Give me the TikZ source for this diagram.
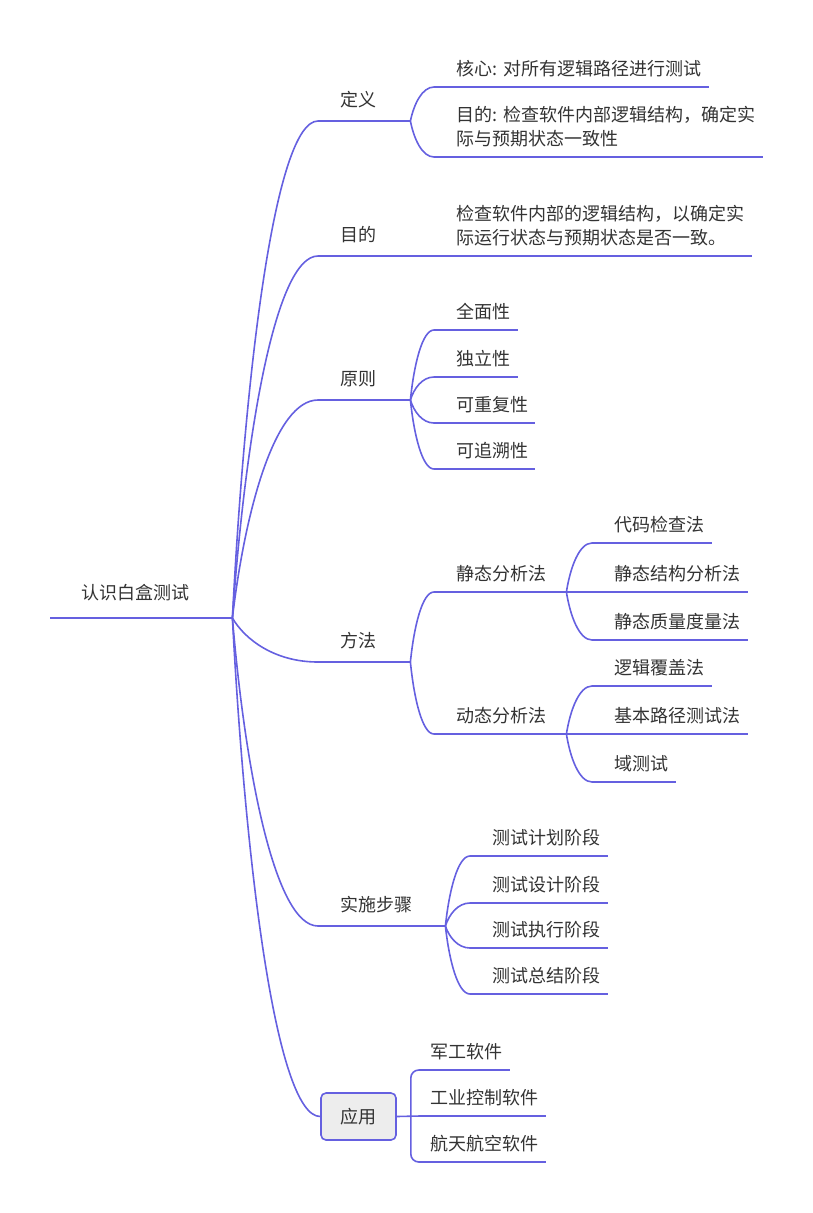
\documentclass[tikz,border=0pt]{standalone}
\usepackage{fontspec}
\setmainfont{Noto Sans CJK SC}
\usepackage{tikz}
\usetikzlibrary{calc}
\definecolor{mind}{HTML}{6560E0}
\definecolor{ink}{HTML}{333333}

\begin{document}
\begin{tikzpicture}[
  x=1pt, y=-1pt,
  font=\fontsize{18pt}{24pt}\selectfont,
  topic/.style={anchor=south west, align=left, text=ink, inner xsep=22pt, inner ysep=9.5pt},
  main/.style={topic, inner ysep=12.5pt},
  rootnode/.style={topic, inner xsep=31pt, inner ysep=17pt},
  leaf/.style={topic, inner xsep=10pt},
  appbox/.style={rectangle, draw=mind, line width=1.6pt, fill=black!7, rounded corners=5pt, text=ink, minimum width=75pt, minimum height=47pt},
  link/.style={draw=mind, line width=1.6pt},
  swoop/.style={to path={let \p1=(\tikztostart), \p2=(\tikztotarget) in
    .. controls ({\x1+0.15*(\x2-\x1)},{0.5*(\y1+\y2)}) and ({0.5*(\x1+\x2)},\y2) .. (\tikztotarget)}}
]
\useasboundingbox (0,0) rectangle (813,1213);

% Root
\node[rootnode, text width=120pt] (root) at (50,618) {认识白盒测试};

% Main topics
\node[main, text width=48pt] (dingyi) at (318,121) {定义};
\node[main, text width=48pt] (mudi) at (318,256) {目的};
\node[main, text width=48pt] (yuanze) at (318,400) {原则};
\node[main, text width=48pt] (fangfa) at (318,662) {方法};
\node[main, text width=83pt] (shishi) at (318,926) {实施步骤};
\node[appbox] (yingyong) at (358.5,1116.5) {应用};

% 定义
\node[topic, text width=231pt] (hexin) at (434,87) {核心:~对所有逻辑路径进行测试};
\node[topic, text width=285pt] (mudi1) at (434,157) {目的:~检查软件内部逻辑结构，确定实\\际与预期状态一致性};

% 目的
\node[topic, text width=274pt] (mudi2) at (434,256) {检查软件内部的逻辑结构，以确定实\\际运行状态与预期状态是否一致。};

% 原则
\node[topic, text width=40pt] (quanmian) at (434,330) {全面性};
\node[topic, text width=40pt] (duli) at (434,377) {独立性};
\node[topic, text width=57pt] (chongfu) at (434,423) {可重复性};
\node[topic, text width=57pt] (zhuisu) at (434,469) {可追溯性};

% 方法
\node[topic, text width=88pt] (jingtai) at (434,592) {静态分析法};
\node[topic, text width=88pt] (dongtai) at (434,734) {动态分析法};
\node[topic, text width=76pt] (daima) at (592,543) {代码检查法};
\node[topic, text width=112pt] (jiegou) at (592,592) {静态结构分析法};
\node[topic, text width=112pt] (zhiliang) at (592,640) {静态质量度量法};
\node[topic, text width=76pt] (luoji) at (592,686) {逻辑覆盖法};
\node[topic, text width=112pt] (jiben) at (592,734) {基本路径测试法};
\node[topic, text width=40pt] (yu) at (592,782) {域测试};

% 实施步骤
\node[topic, text width=94pt] (jihua) at (470,856) {测试计划阶段};
\node[topic, text width=94pt] (sheji) at (470,903) {测试设计阶段};
\node[topic, text width=94pt] (zhixing) at (470,948) {测试执行阶段};
\node[topic, text width=94pt] (zongjie) at (470,994) {测试总结阶段};

% 应用
\node[leaf, text width=70pt] (jungong) at (420,1070) {军工软件};
\node[leaf, text width=106pt] (gongye) at (420,1116) {工业控制软件};
\node[leaf, text width=106pt] (hangtian) at (420,1162) {航天航空软件};
\coordinate (fork) at ($(yingyong.east)+(14,0)$);

% Underlines
\foreach \k in {root,dingyi,mudi,yuanze,fangfa,shishi,hexin,mudi1,mudi2,quanmian,duli,chongfu,zhuisu,
  jingtai,dongtai,daima,jiegou,zhiliang,luoji,jiben,yu,jihua,sheji,zhixing,zongjie,jungong,gongye,hangtian}
  \draw[link] (\k.south west) -- (\k.south east);

% Connections
\foreach \k in {dingyi,mudi,yuanze,fangfa,shishi}
  \draw[link] (root.south east) to[swoop] (\k.south west);
\draw[link] (root.south east) to[swoop] (yingyong.west);
\draw[link] (dingyi.south east) to[swoop] (hexin.south west);
\draw[link] (dingyi.south east) to[swoop] (mudi1.south west);
\draw[link] (mudi.south east) to[swoop] (mudi2.south west);
\foreach \k in {quanmian,duli,chongfu,zhuisu}
  \draw[link] (yuanze.south east) to[swoop] (\k.south west);
\draw[link] (fangfa.south east) to[swoop] (jingtai.south west);
\draw[link] (fangfa.south east) to[swoop] (dongtai.south west);
\foreach \k in {daima,jiegou,zhiliang}
  \draw[link] (jingtai.south east) to[swoop] (\k.south west);
\foreach \k in {luoji,jiben,yu}
  \draw[link] (dongtai.south east) to[swoop] (\k.south west);
\foreach \k in {jihua,sheji,zhixing,zongjie}
  \draw[link] (shishi.south east) to[swoop] (\k.south west);
\draw[link] (yingyong.east) -- (gongye.south west);
\draw[link, rounded corners=8pt] (fork) |- (jungong.south west);
\draw[link, rounded corners=8pt] (fork) |- (hangtian.south west);

\end{tikzpicture}
\end{document}
